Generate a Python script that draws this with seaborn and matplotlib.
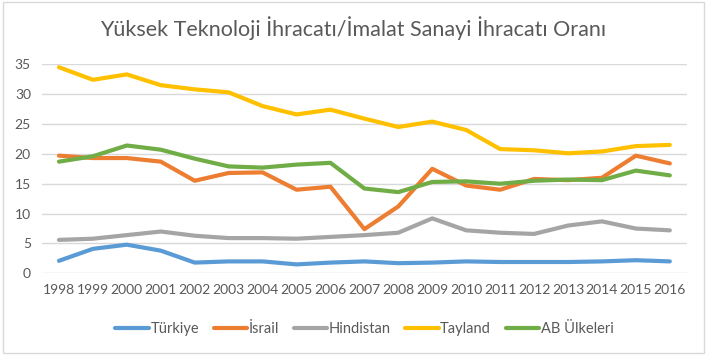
import pandas as pd
import seaborn as sns
import matplotlib.pyplot as plt
from matplotlib.patches import Rectangle

years = list(range(1998, 2017))
turkiye = [2.1, 4.1, 4.8, 3.8, 1.8, 2.0, 2.0, 1.5, 1.8, 2.0, 1.7, 1.8, 2.0, 1.9, 1.9, 1.9, 2.0, 2.2, 2.0]
israil = [19.7, 19.3, 19.3, 18.7, 15.5, 16.8, 16.9, 14.0, 14.5, 7.4, 11.2, 17.5, 14.7, 14.0, 15.8, 15.6, 16.0, 19.7, 18.4]
hindistan = [5.6, 5.8, 6.4, 7.0, 6.3, 5.9, 5.9, 5.8, 6.1, 6.4, 6.8, 9.2, 7.2, 6.8, 6.6, 8.0, 8.7, 7.5, 7.2]
tayland = [34.5, 32.4, 33.3, 31.5, 30.8, 30.3, 28.0, 26.6, 27.4, 25.9, 24.5, 25.4, 24.0, 20.8, 20.6, 20.1, 20.4, 21.3, 21.5]
ab = [18.7, 19.6, 21.4, 20.7, 19.2, 17.9, 17.7, 18.2, 18.5, 14.2, 13.6, 15.3, 15.4, 15.0, 15.5, 15.7, 15.6, 17.2, 16.4]

series = {"Türkiye": turkiye, "İsrail": israil, "Hindistan": hindistan,
          "Tayland": tayland, "AB Ülkeleri": ab}
colors = ["#5B9BD5", "#ED7D31", "#A5A5A5", "#FFC000", "#70AD47"]

rows = []
for name, vals in series.items():
    for i, v in enumerate(vals):
        rows.append([i, name, v])
df = pd.DataFrame(rows, columns=["pos", "ulke", "deger"])

sns.set_style("white")
plt.rcParams["font.family"] = ["Lato", "DejaVu Sans"]

fig = plt.figure(figsize=(7.07, 3.55), dpi=100)
ax = fig.add_axes([0.0594, 0.230, 0.912, 0.589])

sns.lineplot(data=df, x="pos", y="deger", hue="ulke", palette=colors,
             linewidth=3, ax=ax, legend=True)

ax.set_xlim(-0.5, len(years) - 0.5)
ax.set_ylim(0, 35)
ax.set_yticks(range(0, 36, 5))
ax.set_xticks(range(len(years)))
ax.set_xticklabels([str(y) for y in years])
ax.tick_params(axis="both", length=0, labelsize=10, colors="#595959", pad=8)
ax.grid(axis="y", color="#D9D9D9", linewidth=1)
ax.set_axisbelow(True)
for s in ax.spines.values():
    s.set_visible(False)
ax.set_xlabel("")
ax.set_ylabel("")

ax.legend(loc="upper center", bbox_to_anchor=(0.5, -0.17), ncol=5,
          frameon=False, fontsize=10.5, handlelength=2.3, handletextpad=0.1,
          columnspacing=1.0, labelcolor="#595959")

fig.suptitle("Yüksek Teknoloji İhracatı/İmalat Sanayi İhracatı Oranı",
             y=0.955, fontsize=15.5, color="#595959")

fig.patches.append(Rectangle((0.004, 0.006), 0.992, 0.988, transform=fig.transFigure,
                             fill=False, edgecolor="#D9D9D9", linewidth=1))

fig.savefig("out.png", dpi=100)
